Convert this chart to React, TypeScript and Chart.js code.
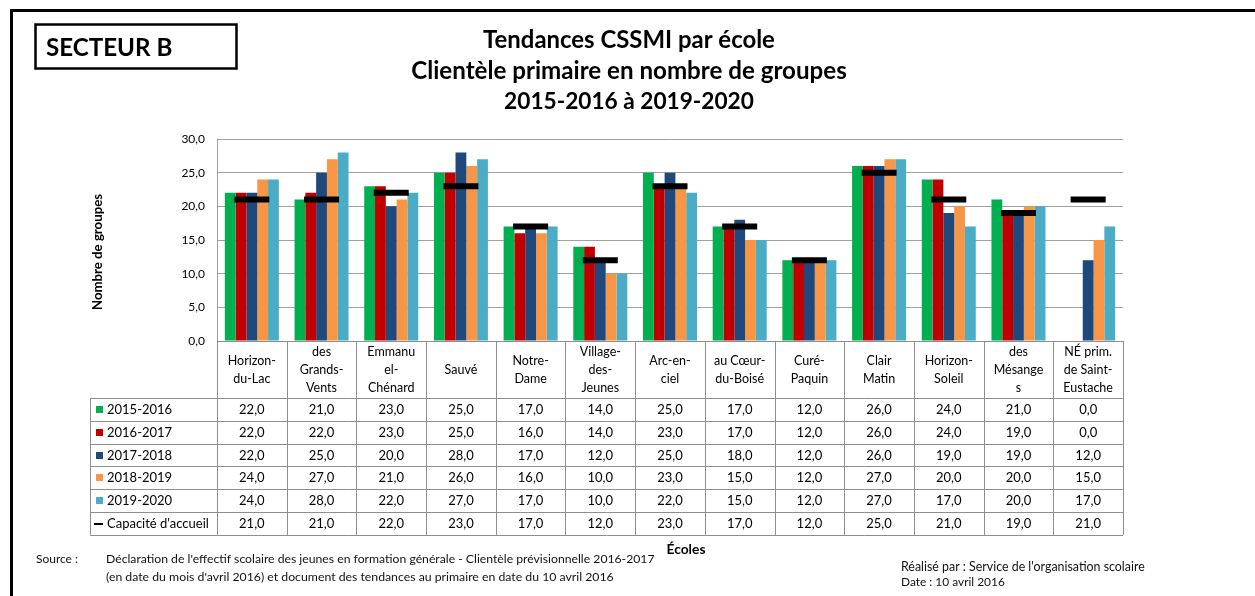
import React, { useEffect, useRef } from "react";
import { Chart, registerables } from "chart.js";

Chart.register(...registerables);

// ---------- data ----------
const schools: string[][] = [
  ["Horizon-", "du-Lac"],
  ["des", "Grands-", "Vents"],
  ["Emmanu", "el-", "Chénard"],
  ["Sauvé"],
  ["Notre-", "Dame"],
  ["Village-", "des-", "Jeunes"],
  ["Arc-en-", "ciel"],
  ["au Cœur-", "du-Boisé"],
  ["Curé-", "Paquin"],
  ["Clair", "Matin"],
  ["Horizon-", "Soleil"],
  ["des", "Mésange", "s"],
  ["NÉ prim.", "de Saint-", "Eustache"],
];

const seasons = ["2015-2016", "2016-2017", "2017-2018", "2018-2019", "2019-2020"];
const s2015_2016 = [22, 21, 23, 25, 17, 14, 25, 17, 12, 26, 24, 21, 0];
const s2016_2017 = [22, 22, 23, 25, 16, 14, 23, 17, 12, 26, 24, 19, 0];
const s2017_2018 = [22, 25, 20, 28, 17, 12, 25, 18, 12, 26, 19, 19, 12];
const s2018_2019 = [24, 27, 21, 26, 16, 10, 23, 15, 12, 27, 20, 20, 15];
const s2019_2020 = [24, 28, 22, 27, 17, 10, 22, 15, 12, 27, 17, 20, 17];
const capacityLabel = "Capacité d'accueil";
const capacity = [21, 21, 22, 23, 17, 12, 23, 17, 12, 25, 21, 19, 21];

const yMin = 0;
const yMax = 30;
const yStep = 5;

const sectorLabel = "SECTEUR B";
const titleLines = [
  "Tendances CSSMI par école",
  "Clientèle primaire en nombre de groupes",
  "2015-2016 à 2019-2020",
];
const yAxisTitle = "Nombre de groupes";
const xAxisTitle = "Écoles";
const sourceLabel = "Source :";
const sourceLines = [
  "Déclaration de l'effectif scolaire des jeunes en formation générale - Clientèle prévisionnelle 2016-2017",
  "(en date du mois d'avril 2016) et document des tendances au primaire en date du 10 avril 2016",
];
const creditLines = [
  "Réalisé par : Service de l'organisation scolaire",
  "Date : 10 avril 2016",
];

// ---------- styles ----------
const FONT = "Lato, 'Open Sans', 'DejaVu Sans', sans-serif";
const seriesColors = ["#00B050", "#C00000", "#1F497D", "#F79646", "#4BACC6"];
const gridColor = "#a0a0a0";
const tableLine = "#8e8e8e";

const fmt = (v: number) => v.toFixed(1).replace(".", ",");

function drawFitted(
  ctx: CanvasRenderingContext2D,
  text: string,
  x: number,
  y: number,
  width: number,
  weight: string,
  baseSize: number,
  align: CanvasTextAlign
) {
  ctx.font = `${weight} 100px ${FONT}`;
  const w = ctx.measureText(text).width;
  let size = (100 * width) / w;
  size = Math.min(Math.max(size, baseSize * 0.85), baseSize * 1.15);
  ctx.font = `${weight} ${size}px ${FONT}`;
  ctx.textAlign = align;
  ctx.fillText(text, x, y, width);
}

const decorPlugin = {
  id: "decor",
  beforeDraw(chart: any) {
    const ctx: CanvasRenderingContext2D = chart.ctx;
    ctx.save();
    ctx.fillStyle = "#ffffff";
    ctx.fillRect(0, 0, chart.width, chart.height);
    ctx.restore();
  },
  afterDraw(chart: any) {
    const ctx: CanvasRenderingContext2D = chart.ctx;
    const area = chart.chartArea;
    const xs = chart.scales.x;
    const n = schools.length;
    const colW = (area.right - area.left) / n;
    ctx.save();
    ctx.textBaseline = "middle";
    ctx.fillStyle = "#000";

    // outer frame
    ctx.strokeStyle = "#000";
    ctx.lineWidth = 3;
    ctx.beginPath();
    ctx.moveTo(11.5, chart.height + 5);
    ctx.lineTo(11.5, 10.5);
    ctx.lineTo(chart.width + 5, 10.5);
    ctx.stroke();

    // sector box
    ctx.lineWidth = 2.5;
    ctx.strokeRect(35.5, 24.5, 201, 44);
    drawFitted(ctx, sectorLabel, 46, 48, 128, "bold", 21, "left");

    // title
    const titleWidths = [292, 447, 250];
    const titleY = [40, 71, 102];
    titleLines.forEach((t, i) => drawFitted(ctx, t, 629, titleY[i], titleWidths[i], "bold", 21, "center"));

    // y axis title
    ctx.save();
    ctx.translate(98, 252);
    ctx.rotate(-Math.PI / 2);
    drawFitted(ctx, yAxisTitle, 0, 0, 121, "bold", 11.5, "center");
    ctx.restore();

    // table geometry
    const tableTop = area.bottom;
    const headerBottom = tableTop + 57;
    const rowH = 22.8;
    const nRows = seasons.length + 1;
    const tableBottom = headerBottom + rowH * nRows;
    const legendLeft = 90;

    ctx.strokeStyle = tableLine;
    ctx.lineWidth = 1;
    ctx.beginPath();
    for (let i = 0; i <= n; i++) {
      const x = Math.round(area.left + i * colW) + 0.5;
      ctx.moveTo(x, tableTop);
      ctx.lineTo(x, tableBottom);
    }
    ctx.moveTo(legendLeft + 0.5, headerBottom);
    ctx.lineTo(legendLeft + 0.5, tableBottom);
    ctx.moveTo(area.left, Math.round(tableTop) + 0.5);
    ctx.lineTo(area.right, Math.round(tableTop) + 0.5);
    for (let r = 0; r <= nRows; r++) {
      const y = Math.round(headerBottom + r * rowH) + 0.5;
      ctx.moveTo(legendLeft, y);
      ctx.lineTo(area.right, y);
    }
    ctx.stroke();

    // header labels
    ctx.fillStyle = "#000";
    ctx.font = `12.5px ${FONT}`;
    ctx.textAlign = "center";
    const lh = 18;
    const hc = (tableTop + headerBottom) / 2;
    schools.forEach((lines, i) => {
      const cx = xs.getPixelForValue(i);
      const y0 = hc - ((lines.length - 1) * lh) / 2;
      lines.forEach((l, k) => ctx.fillText(l, cx, y0 + k * lh, colW - 4));
    });

    // rows
    const rows = [s2015_2016, s2016_2017, s2017_2018, s2018_2019, s2019_2020, capacity];
    const rowLabels = [...seasons, capacityLabel];
    rows.forEach((vals, r) => {
      const cy = headerBottom + (r + 0.5) * rowH + 0.5;
      if (r < seasons.length) {
        ctx.fillStyle = seriesColors[r];
        ctx.fillRect(96, Math.round(cy - 4), 7, 7);
      } else {
        ctx.fillStyle = "#000";
        ctx.fillRect(94, Math.round(cy - 1), 9, 2);
      }
      ctx.fillStyle = "#000";
      ctx.font = `13px ${FONT}`;
      ctx.textAlign = "left";
      ctx.fillText(rowLabels[r], 107, cy, area.left - 109);
      ctx.textAlign = "center";
      vals.forEach((v, i) => ctx.fillText(fmt(v), xs.getPixelForValue(i), cy));
    });

    // x axis title
    drawFitted(ctx, xAxisTitle, 686, 550, 39, "bold", 12, "center");

    // footer
    ctx.fillStyle = "#111";
    drawFitted(ctx, sourceLabel, 36, 559, 42, "normal", 11, "left");
    drawFitted(ctx, sourceLines[0], 106, 559, 549, "normal", 11, "left");
    drawFitted(ctx, sourceLines[1], 106, 577, 508, "normal", 11, "left");
    drawFitted(ctx, creditLines[0], 901, 567, 244, "normal", 11, "left");
    drawFitted(ctx, creditLines[1], 901, 582, 104, "normal", 11, "left");

    ctx.restore();
  },
};

export default function App() {
  const canvasRef = useRef<HTMLCanvasElement | null>(null);

  useEffect(() => {
    document.body.style.margin = "0";
    document.body.style.overflow = "hidden";
    const canvas = canvasRef.current;
    if (!canvas) return;
    const series = [s2015_2016, s2016_2017, s2017_2018, s2018_2019, s2019_2020];
    const chart = new Chart(canvas, {
      type: "bar",
      data: {
        labels: schools.map((s) => s.join(" ")),
        datasets: [
          {
            type: "line",
            label: capacityLabel,
            data: capacity,
            showLine: false,
            pointStyle: "line",
            pointRadius: 17.5,
            pointHoverRadius: 17.5,
            pointBorderWidth: 6,
            pointHoverBorderWidth: 6,
            borderColor: "#000",
            backgroundColor: "#000",
            order: -1,
          } as any,
          ...series.map((d, i) => ({
            type: "bar" as const,
            label: seasons[i],
            data: d,
            backgroundColor: seriesColors[i],
            borderWidth: 0,
            categoryPercentage: 0.775,
            barPercentage: 1,
          })),
        ],
      },
      options: {
        responsive: false,
        devicePixelRatio: 1,
        animation: false,
        events: [],
        layout: { padding: { left: 0, top: 139, right: 132, bottom: 255 } },
        plugins: {
          legend: { display: false },
          tooltip: { enabled: false },
          title: { display: false },
        },
        scales: {
          x: { display: false },
          y: {
            min: yMin,
            max: yMax,
            ticks: {
              stepSize: yStep,
              padding: 12,
              color: "#000",
              font: { family: FONT, size: 12 },
              callback: (v: any) => fmt(Number(v)),
            },
            grid: { color: gridColor, drawTicks: false, lineWidth: 1 },
            border: { display: true, color: gridColor, width: 1 },
            afterFit: (scale: any) => {
              scale.width = 217;
            },
          },
        },
      },
      plugins: [decorPlugin],
    });
    return () => chart.destroy();
  }, []);

  return <canvas ref={canvasRef} width={1255} height={596} style={{ display: "block" }} />;
}
